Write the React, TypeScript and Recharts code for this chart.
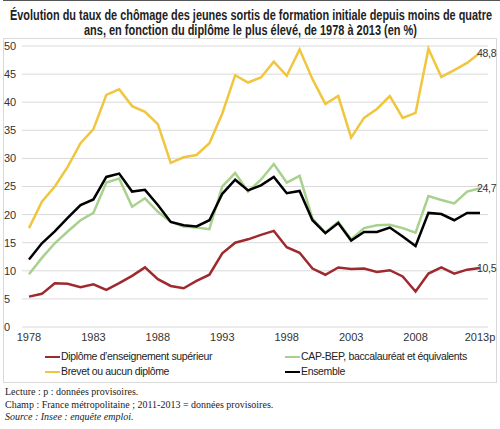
import { LineChart, Line, XAxis, YAxis, CartesianGrid } from 'recharts';

const years = [
  '1978', '1979', '1980', '1981', '1982', '1983', '1984', '1985', '1986', '1987', '1988', '1989',
  '1990', '1991', '1992', '1993', '1994', '1995', '1996', '1997', '1998', '1999', '2000', '2001',
  '2002', '2003', '2004', '2005', '2006', '2007', '2008', '2009', '2010', '2011', '2012', '2013p',
];

const superieur = [
  5.4, 5.9, 7.8, 7.7, 7.1, 7.6, 6.6, 7.8, 9.1, 10.6, 8.5, 7.3,
  6.9, 8.2, 9.3, 13.1, 15.0, 15.6, 16.4, 17.1, 14.2, 13.2, 10.4, 9.3,
  10.6, 10.3, 10.4, 9.8, 10.1, 9.0, 6.3, 9.5, 10.6, 9.5, 10.2, 10.5,
];

const capBep = [
  9.4, 12.3, 14.9, 17.0, 19.0, 20.3, 25.7, 26.4, 21.4, 22.9, 20.5, 18.7,
  17.9, 17.7, 17.4, 25.0, 27.4, 24.1, 26.2, 29.0, 25.7, 26.9, 19.3, 16.8,
  18.7, 15.6, 17.6, 18.1, 18.2, 17.6, 16.8, 23.3, 22.6, 22.0, 24.1, 24.7,
];

const brevet = [
  17.6, 22.3, 25.0, 28.5, 32.7, 35.2, 41.3, 42.3, 39.3, 38.3, 36.1, 29.2,
  30.2, 30.6, 32.7, 38.0, 44.8, 43.5, 44.4, 47.2, 44.7, 49.4, 44.1, 39.7,
  41.1, 33.7, 37.2, 38.8, 41.1, 37.2, 38.1, 49.5, 44.5, 45.7, 47.0, 48.8,
];

const ensemble = [
  12.0, 14.9, 17.0, 19.4, 21.7, 22.7, 26.7, 27.3, 24.1, 24.4, 21.7, 18.7,
  18.1, 17.9, 19.0, 23.7, 26.2, 24.3, 25.2, 26.7, 23.8, 24.2, 19.0, 16.7,
  18.5, 15.4, 16.9, 16.9, 17.7, 16.1, 14.4, 20.3, 20.1, 19.0, 20.3, 20.3,
];

const yTicks = [0, 5, 10, 15, 20, 25, 30, 35, 40, 45, 50];

const data = years.map((y, i) => ({
  year: y,
  sup: superieur[i],
  cap: capBep[i],
  brevet: brevet[i],
  ens: ensemble[i],
}));

const lastIndex = years.length - 1;

// only the last point gets its value written, as in the original
const endLabel = (props) => {
  const { x, y, index, value } = props;
  if (index !== lastIndex) return null;
  return (
    <text x={x - 3} y={y + 4} fontSize={10.5} letterSpacing={-0.3} fill="#333" fontFamily="Arial, 'Liberation Sans', sans-serif">
      {String(value).replace('.', ',')}
    </text>
  );
};

const legendItems = [
  { name: 'Diplôme d\u2019enseignement supérieur', color: '#9e2a2f' },
  { name: 'CAP-BEP, baccalauréat et équivalents', color: '#a9d18e' },
  { name: 'Brevet ou aucun diplôme', color: '#f0c63f' },
  { name: 'Ensemble', color: '#000000' },
];

const App = () => {
  return (
    <div style={{ position: 'absolute', left: 0, top: 0, width: 500, height: 429, background: '#fff', fontFamily: "Arial, 'Liberation Sans', sans-serif" }}>
      <div style={{ position: 'absolute', left: 3, top: 0, width: 497, borderTop: '1px solid #555' }} />
      <svg style={{ position: 'absolute', left: 0, top: 0 }} width={500} height={38}>
        <text x={10} y={20} fontSize={14} fontWeight="bold" fill="#222" textLength={482} lengthAdjust="spacingAndGlyphs" fontFamily="'Liberation Sans', Arial, sans-serif">
          Évolution du taux de chômage des jeunes sortis de formation initiale depuis moins de quatre
        </text>
        <text x={84} y={35} fontSize={14} fontWeight="bold" fill="#222" textLength={333} lengthAdjust="spacingAndGlyphs" fontFamily="'Liberation Sans', Arial, sans-serif">
          ans, en fonction du diplôme le plus élevé, de 1978 à 2013 (en %)
        </text>
      </svg>
      <div style={{ position: 'absolute', left: 3, top: 38, width: 494, height: 345, border: '1px solid #d9d9d9', boxSizing: 'border-box' }} />
      <div style={{ position: 'absolute', left: 0, top: 36 }}>
        <LineChart width={500} height={311} data={data} margin={{ top: 10, right: 12, left: 0, bottom: 0 }}>
          <CartesianGrid vertical={false} stroke="#d9d9d9" strokeWidth={1} />
          <XAxis
            dataKey="year"
            interval={4}
            tickLine={false}
            axisLine={false}
            padding={{ left: 7, right: 8 }}
            tick={{ fontSize: 11, fill: '#333' }}
            tickMargin={0}
            height={20}
          />
          <YAxis
            domain={[0, 50]}
            ticks={yTicks}
            width={22}
            tickLine={false}
            axisLine={false}
            tick={{ fontSize: 11, fill: '#333', textAnchor: 'start' }}
            tickMargin={0}
            dx={-12}
          />
          <Line dataKey="sup" name="Diplôme d'enseignement supérieur" stroke="#9e2a2f" strokeWidth={2.5} dot={false} isAnimationActive={false} label={endLabel} />
          <Line dataKey="cap" name="CAP-BEP, baccalauréat et équivalents" stroke="#a9d18e" strokeWidth={2.5} dot={false} isAnimationActive={false} label={endLabel} />
          <Line dataKey="brevet" name="Brevet ou aucun diplôme" stroke="#f0c63f" strokeWidth={2.5} dot={false} isAnimationActive={false} label={endLabel} />
          <Line dataKey="ens" name="Ensemble" stroke="#000000" strokeWidth={2.5} dot={false} isAnimationActive={false} />
        </LineChart>
      </div>
      <div style={{ position: 'absolute', left: 45, top: 350, display: 'grid', gridTemplateColumns: '240px 200px', rowGap: 2 }}>
        {legendItems.map((item) => (
          <div key={item.name} style={{ display: 'flex', alignItems: 'center', fontSize: 10.5, lineHeight: '13px', color: '#222', letterSpacing: -0.35 }}>
            <span style={{ display: 'inline-block', width: 15, height: 2, background: item.color, marginRight: 1 }} />
            {item.name}
          </div>
        ))}
      </div>
      <div style={{ position: 'absolute', left: 5, top: 386, fontFamily: "'Liberation Serif', 'Times New Roman', serif", fontSize: 10, lineHeight: '12.5px', color: '#222' }}>
        <div>Lecture : p : données provisoires.</div>
        <div>Champ : France métropolitaine ; 2011-2013 = données provisoires.</div>
        <div style={{ fontStyle: 'italic' }}>Source : Insee : enquête emploi.</div>
      </div>
    </div>
  );
};

export default App;
